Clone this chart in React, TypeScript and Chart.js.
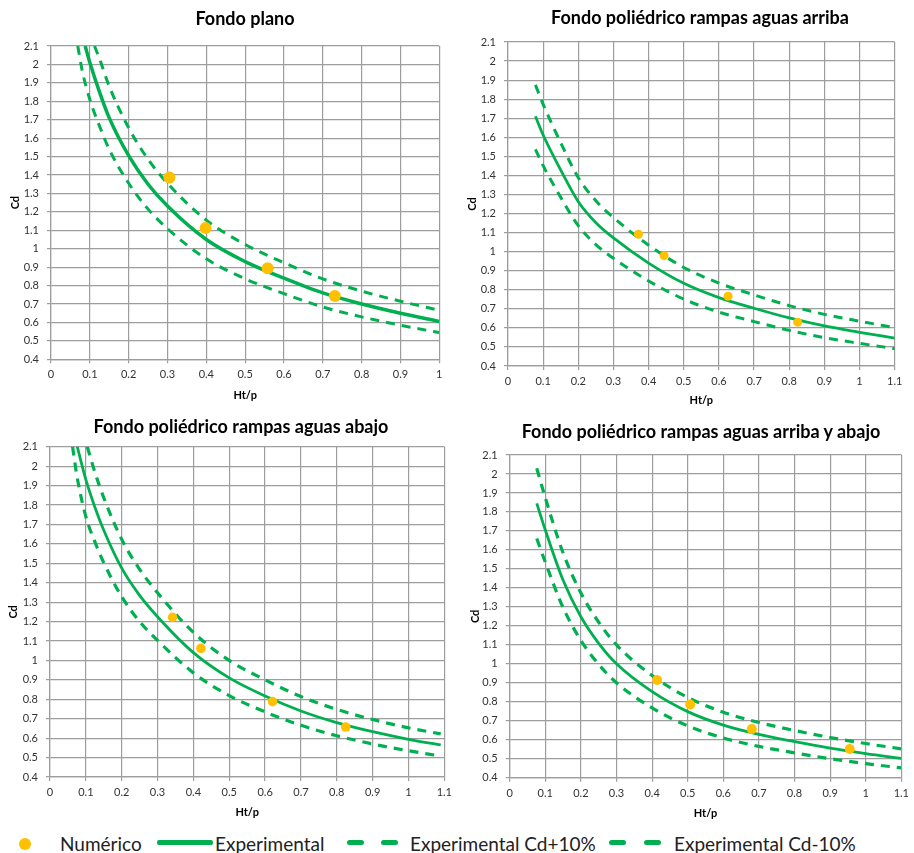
import React, { useEffect, useRef } from "react";
import { Chart, registerables } from "chart.js";

Chart.register(...registerables);

const GREEN = "#00B050";
const ORANGE = "#FFC000";
const GRID = "#9d9d9d";
const FONT = "Lato, 'Open Sans', sans-serif";

const X_TITLE = "Ht/p";
const Y_TITLE = "Cd";
const LEGEND_LABELS = ["Numérico", "Experimental", "Experimental Cd+10%", "Experimental Cd-10%"];

// ---- Panel 1: Fondo plano
const planoTitle = "Fondo plano";
const planoNumX = [0.305, 0.398, 0.558, 0.731];
const planoNumY = [1.386, 1.113, 0.894, 0.744];
const planoExpX = [0.088, 0.1, 0.125, 0.15, 0.2, 0.25, 0.3, 0.4, 0.5, 0.6, 0.7, 0.8, 0.9, 1.0];
const planoExpY = [2.1, 2.01, 1.85, 1.71, 1.505, 1.35, 1.232, 1.05, 0.93, 0.84, 0.76, 0.7, 0.65, 0.605];
const planoSupX = [0.112, 0.125, 0.15, 0.2, 0.25, 0.3, 0.4, 0.5, 0.6, 0.7, 0.8, 0.9, 1.0];
const planoSupY = [2.1, 2.03, 1.881, 1.656, 1.485, 1.355, 1.155, 1.023, 0.924, 0.836, 0.77, 0.715, 0.666];
const planoInfX = [0.069, 0.08, 0.1, 0.125, 0.15, 0.2, 0.25, 0.3, 0.4, 0.5, 0.6, 0.7, 0.8, 0.9, 1.0];
const planoInfY = [2.1, 1.97, 1.81, 1.665, 1.539, 1.355, 1.215, 1.109, 0.945, 0.837, 0.756, 0.684, 0.63, 0.585, 0.545];

// ---- Panel 2: rampas aguas arriba
const arribaTitle = "Fondo poliédrico rampas aguas arriba";
const arribaNumX = [0.371, 0.444, 0.626, 0.824];
const arribaNumY = [1.091, 0.979, 0.766, 0.63];
const arribaCurveX = [0.078, 0.1, 0.15, 0.2, 0.25, 0.3, 0.4, 0.5, 0.6, 0.7, 0.8, 0.9, 1.0, 1.1];
const arribaExpY = [1.71, 1.612, 1.428, 1.262, 1.152, 1.072, 0.94, 0.834, 0.759, 0.703, 0.652, 0.61, 0.577, 0.546];
const arribaSupY = [1.875, 1.773, 1.571, 1.388, 1.267, 1.179, 1.034, 0.917, 0.835, 0.773, 0.717, 0.671, 0.635, 0.601];
const arribaInfY = [1.537, 1.451, 1.285, 1.136, 1.037, 0.965, 0.846, 0.751, 0.683, 0.633, 0.587, 0.549, 0.519, 0.491];

// ---- Panel 3: rampas aguas abajo
const abajoTitle = "Fondo poliédrico rampas aguas abajo";
const abajoNumX = [0.342, 0.421, 0.621, 0.825];
const abajoNumY = [1.222, 1.062, 0.788, 0.657];
const abajoExpX = [0.076, 0.1, 0.125, 0.15, 0.2, 0.25, 0.3, 0.4, 0.5, 0.6, 0.7, 0.8, 0.9, 1.0, 1.09];
const abajoExpY = [2.1, 1.93, 1.79, 1.67, 1.475, 1.335, 1.225, 1.04, 0.91, 0.817, 0.74, 0.68, 0.633, 0.594, 0.565];
const abajoSupX = [0.104, 0.125, 0.15, 0.2, 0.25, 0.3, 0.4, 0.5, 0.6, 0.7, 0.8, 0.9, 1.0, 1.09];
const abajoSupY = [2.1, 1.97, 1.837, 1.623, 1.469, 1.348, 1.144, 1.0, 0.9, 0.814, 0.748, 0.696, 0.653, 0.622];
const abajoInfX = [0.063, 0.075, 0.1, 0.125, 0.15, 0.2, 0.25, 0.3, 0.4, 0.5, 0.6, 0.7, 0.8, 0.9, 1.0, 1.09];
const abajoInfY = [2.1, 1.95, 1.74, 1.611, 1.503, 1.328, 1.2, 1.103, 0.936, 0.819, 0.735, 0.666, 0.612, 0.57, 0.535, 0.508];

// ---- Panel 4: rampas aguas arriba y abajo
const ambasTitle = "Fondo poliédrico rampas aguas arriba y abajo";
const ambasNumX = [0.414, 0.507, 0.68, 0.955];
const ambasNumY = [0.915, 0.786, 0.656, 0.551];
const ambasCurveX = [0.076, 0.1, 0.15, 0.2, 0.25, 0.3, 0.4, 0.5, 0.6, 0.7, 0.8, 0.9, 1.0, 1.1];
const ambasExpY = [1.845, 1.705, 1.44, 1.248, 1.108, 1.0, 0.853, 0.748, 0.677, 0.628, 0.59, 0.556, 0.527, 0.502];
const ambasSupY = [2.03, 1.875, 1.584, 1.373, 1.219, 1.1, 0.938, 0.823, 0.745, 0.691, 0.649, 0.612, 0.58, 0.552];
const ambasInfY = [1.66, 1.535, 1.296, 1.123, 0.997, 0.9, 0.768, 0.673, 0.609, 0.565, 0.531, 0.5, 0.474, 0.452];

const Y_MIN = 0.4;
const Y_MAX = 2.1;
const STEP = 0.1;

type Box = { l: number; t: number; w: number; h: number };
type Area = { l: number; r: number; t: number; b: number };
type PanelCfg = {
  title: string;
  titleCx: number;
  titleCy: number;
  canvas: Box;
  area: Area;
  xMax: number;
  yTitleX: number;
  xTitleY: number;
  numX: number[];
  numY: number[];
  expX: number[];
  expY: number[];
  supX: number[];
  supY: number[];
  infX: number[];
  infY: number[];
  solidWidth: number;
  dashWidth: number;
  pointRadius: number;
};

const pts = (xs: number[], ys: number[]) => xs.map((x, i) => ({ x, y: ys[i] }));
const fmt = (v: any) => String(Math.round(Number(v) * 10) / 10);

const PANELS: PanelCfg[] = [
  {
    title: planoTitle, titleCx: 245, titleCy: 18,
    canvas: { l: 0, t: 0, w: 457, h: 404 },
    area: { l: 51, r: 439.3, t: 46, b: 359.3 },
    xMax: 1.0, yTitleX: 15, xTitleY: 395,
    numX: planoNumX, numY: planoNumY, expX: planoExpX, expY: planoExpY,
    supX: planoSupX, supY: planoSupY, infX: planoInfX, infY: planoInfY,
    solidWidth: 3.5, dashWidth: 3, pointRadius: 6,
  },
  {
    title: arribaTitle, titleCx: 700, titleCy: 17,
    canvas: { l: 457, t: 0, w: 457, h: 410 },
    area: { l: 508, r: 894.7, t: 42, b: 366 },
    xMax: 1.1, yTitleX: 472, xTitleY: 400,
    numX: arribaNumX, numY: arribaNumY, expX: arribaCurveX, expY: arribaExpY,
    supX: arribaCurveX, supY: arribaSupY, infX: arribaCurveX, infY: arribaInfY,
    solidWidth: 2.8, dashWidth: 3, pointRadius: 4.5,
  },
  {
    title: abajoTitle, titleCx: 241, titleCy: 426,
    canvas: { l: 0, t: 400, w: 457, h: 422 },
    area: { l: 50, r: 445.7, t: 446.7, b: 777 },
    xMax: 1.1, yTitleX: 13, xTitleY: 812,
    numX: abajoNumX, numY: abajoNumY, expX: abajoExpX, expY: abajoExpY,
    supX: abajoSupX, supY: abajoSupY, infX: abajoInfX, infY: abajoInfY,
    solidWidth: 2.8, dashWidth: 3.2, pointRadius: 4.8,
  },
  {
    title: ambasTitle, titleCx: 701, titleCy: 431,
    canvas: { l: 457, t: 400, w: 457, h: 422 },
    area: { l: 509.7, r: 903.7, t: 455, b: 777.7 },
    xMax: 1.1, yTitleX: 475, xTitleY: 813,
    numX: ambasNumX, numY: ambasNumY, expX: ambasCurveX, expY: ambasExpY,
    supX: ambasCurveX, supY: ambasSupY, infX: ambasCurveX, infY: ambasInfY,
    solidWidth: 2.8, dashWidth: 3.2, pointRadius: 5,
  },
];

function Panel({ cfg }: { cfg: PanelCfg }) {
  const ref = useRef<HTMLCanvasElement | null>(null);
  useEffect(() => {
    if (!ref.current) return;
    const c = cfg.canvas;
    const a = cfg.area;
    const yWidth = a.l - c.l;
    const xHeight = c.t + c.h - a.b;
    const padRight = c.l + c.w - a.r;
    const padTop = a.t - c.t;
    const lh = 11 * 1.2;
    const yTitlePad = cfg.yTitleX - c.l - lh / 2;
    const xTitlePad = c.t + c.h - cfg.xTitleY - lh / 2;

    const lineDs = (label: string, xs: number[], ys: number[], width: number, dash: number[]) => ({
      label,
      data: pts(xs, ys),
      showLine: true,
      borderColor: GREEN,
      backgroundColor: GREEN,
      borderWidth: width,
      borderDash: dash,
      borderCapStyle: "butt",
      pointRadius: 0,
      pointHoverRadius: 0,
      cubicInterpolationMode: "monotone",
      fill: false,
    });

    const chart = new Chart(ref.current, {
      type: "scatter",
      data: {
        datasets: [
          {
            label: LEGEND_LABELS[0],
            data: pts(cfg.numX, cfg.numY),
            showLine: false,
            backgroundColor: ORANGE,
            borderColor: ORANGE,
            borderWidth: 0,
            pointRadius: cfg.pointRadius,
            pointHoverRadius: cfg.pointRadius,
          },
          lineDs(LEGEND_LABELS[1], cfg.expX, cfg.expY, cfg.solidWidth, []),
          lineDs(LEGEND_LABELS[2], cfg.supX, cfg.supY, cfg.dashWidth, [9, 7]),
          lineDs(LEGEND_LABELS[3], cfg.infX, cfg.infY, cfg.dashWidth, [9, 7]),
        ] as any,
      },
      options: {
        animation: false,
        responsive: false,
        maintainAspectRatio: false,
        events: [],
        layout: { padding: { left: 0, right: padRight, top: padTop, bottom: 0 } },
        plugins: {
          legend: { display: false },
          tooltip: { enabled: false },
          title: { display: false },
        },
        scales: {
          x: {
            type: "linear",
            min: 0,
            max: cfg.xMax,
            ticks: {
              stepSize: STEP,
              autoSkip: false,
              maxRotation: 0,
              padding: 5,
              color: "#333",
              font: { size: 11, family: FONT },
              callback: fmt,
            },
            grid: { color: GRID, lineWidth: 1.2, tickLength: 4 },
            border: { color: GRID, width: 1.2 },
            title: {
              display: true,
              text: X_TITLE,
              color: "#000",
              font: { size: 11, weight: "bold", family: FONT },
              padding: { top: 0, bottom: xTitlePad },
            },
            afterFit: (s: any) => {
              s.height = xHeight;
            },
          },
          y: {
            type: "linear",
            min: Y_MIN,
            max: Y_MAX,
            ticks: {
              stepSize: STEP,
              autoSkip: false,
              padding: 8,
              color: "#333",
              font: { size: 11, family: FONT },
              callback: fmt,
            },
            grid: { color: GRID, lineWidth: 1.2, tickLength: 4 },
            border: { color: GRID, width: 1.2 },
            title: {
              display: true,
              text: Y_TITLE,
              color: "#000",
              font: { size: 11, weight: "bold", family: FONT },
              padding: { top: yTitlePad, bottom: 0 },
            },
            afterFit: (s: any) => {
              s.width = yWidth;
            },
          },
        },
      } as any,
    });
    return () => chart.destroy();
  }, [cfg]);

  const c = cfg.canvas;
  return (
    <>
      <canvas
        ref={ref}
        width={c.w}
        height={c.h}
        style={{ position: "absolute", left: c.l, top: c.t, width: c.w, height: c.h }}
      />
      <div
        style={{
          position: "absolute",
          left: cfg.titleCx - 250,
          top: cfg.titleCy - 12,
          width: 500,
          textAlign: "center",
          font: `bold 18px ${FONT}`,
          lineHeight: "24px",
          color: "#000",
          whiteSpace: "nowrap",
        }}
      >
        {cfg.title}
      </div>
    </>
  );
}

function LegendText({ left, text }: { left: number; text: string }) {
  return (
    <div
      style={{
        position: "absolute",
        left,
        top: 833,
        font: `19px ${FONT}`,
        lineHeight: "22px",
        color: "#222",
        whiteSpace: "nowrap",
      }}
    >
      {text}
    </div>
  );
}

function Seg({ left, width, dashed }: { left: number; width: number; dashed?: boolean }) {
  return (
    <div
      style={{
        position: "absolute",
        left,
        top: 840,
        width,
        height: 5,
        borderRadius: dashed ? 2.5 : 2,
        background: GREEN,
      }}
    />
  );
}

export default function App() {
  return (
    <div
      style={{
        position: "absolute",
        left: 0,
        top: 0,
        width: 914,
        height: 853,
        overflow: "hidden",
        background: "#fff",
        fontFamily: FONT,
      }}
    >
      {PANELS.map((p, i) => (
        <Panel key={i} cfg={p} />
      ))}
      <div
        style={{
          position: "absolute",
          left: 19,
          top: 838,
          width: 12,
          height: 12,
          borderRadius: "50%",
          background: ORANGE,
        }}
      />
      <LegendText left={60} text={LEGEND_LABELS[0]} />
      <Seg left={157} width={56} />
      <LegendText left={215} text={LEGEND_LABELS[1]} />
      <Seg left={347} width={17} dashed />
      <Seg left={381} width={17} dashed />
      <LegendText left={410} text={LEGEND_LABELS[2]} />
      <Seg left={609} width={17} dashed />
      <Seg left={644} width={17} dashed />
      <LegendText left={674} text={LEGEND_LABELS[3]} />
    </div>
  );
}
